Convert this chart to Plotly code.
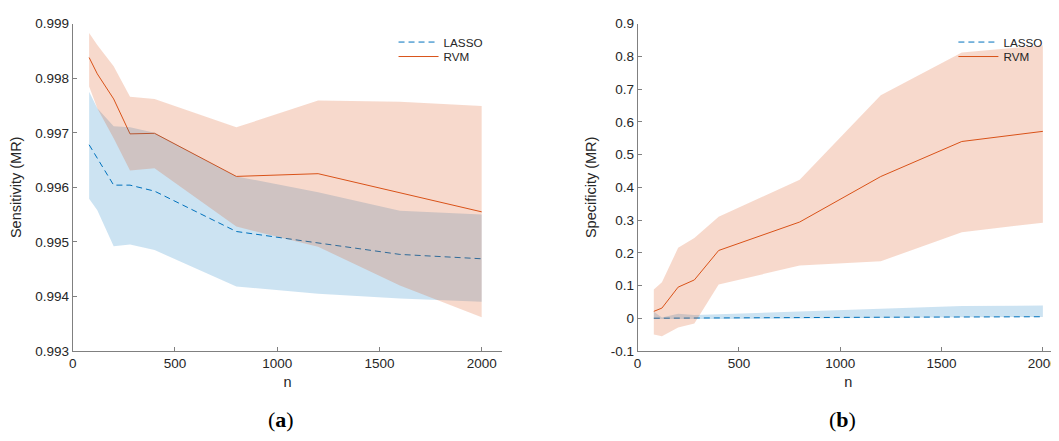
import plotly.graph_objects as go

# ---------------- data ----------------
n = [80, 120, 200, 280, 400, 800, 1200, 1600, 2000]

lasso_sens_mean = [0.99678, 0.99653, 0.99604, 0.99604, 0.99593, 0.99519, 0.99498, 0.99477, 0.99469]
lasso_sens_upper = [0.99775, 0.99745, 0.99712, 0.99710, 0.99700, 0.99620, 0.99591, 0.99557, 0.99550]
lasso_sens_lower = [0.99579, 0.99558, 0.99492, 0.99495, 0.99485, 0.99418, 0.99405, 0.99396, 0.99390]

rvm_sens_mean = [0.99838, 0.99808, 0.99762, 0.99698, 0.99699, 0.99620, 0.99625, 0.99590, 0.99555]
rvm_sens_upper = [0.99883, 0.99861, 0.99822, 0.99766, 0.99762, 0.99710, 0.99759, 0.99757, 0.99749]
rvm_sens_lower = [0.99785, 0.99745, 0.99690, 0.99631, 0.99635, 0.99528, 0.99491, 0.99420, 0.99362]

lasso_spec_mean = [0.000, 0.000, 0.0005, 0.0005, 0.001, 0.002, 0.003, 0.004, 0.0045]
lasso_spec_upper = [0.020, 0.002, 0.014, 0.010, 0.012, 0.020, 0.028, 0.037, 0.039]
lasso_spec_lower = [-0.002, -0.002, -0.003, -0.003, -0.002, -0.001, 0.000, 0.003, 0.004]

rvm_spec_mean = [0.021, 0.031, 0.095, 0.117, 0.207, 0.294, 0.433, 0.540, 0.571]
rvm_spec_upper = [0.088, 0.110, 0.215, 0.245, 0.310, 0.423, 0.681, 0.812, 0.834]
rvm_spec_lower = [-0.050, -0.055, -0.028, -0.016, 0.103, 0.161, 0.174, 0.263, 0.292]

sens_ticks = [0.993, 0.994, 0.995, 0.996, 0.997, 0.998, 0.999]
sens_ticktext = ["0.993", "0.994", "0.995", "0.996", "0.997", "0.998", "0.999"]
spec_ticks = [-0.1, 0, 0.1, 0.2, 0.3, 0.4, 0.5, 0.6, 0.7, 0.8, 0.9]
spec_ticktext = ["-0.1", "0", "0.1", "0.2", "0.3", "0.4", "0.5", "0.6", "0.7", "0.8", "0.9"]
x_ticks = [0, 500, 1000, 1500, 2000]

BLUE = "#0072BD"
ORANGE = "#D95319"
BLUE_FILL = "rgba(0,114,189,0.2)"
ORANGE_FILL = "rgba(217,83,25,0.22)"
FONT = "Liberation Sans, Arial, sans-serif"
TXT = "#262626"

fig = go.Figure()


def add_panel(xa, ya, leg_l, leg_r, l_mean, l_up, l_lo, r_mean, r_up, r_lo):
    # lines first (drawn beneath translucent patches, as in MATLAB)
    fig.add_trace(go.Scatter(x=n, y=l_mean, mode="lines", name="LASSO",
                             line=dict(color=BLUE, width=1, dash="6px,4px"),
                             xaxis=xa, yaxis=ya, legend=leg_l))
    fig.add_trace(go.Scatter(x=n, y=r_mean, mode="lines", name="RVM",
                             line=dict(color=ORANGE, width=1),
                             xaxis=xa, yaxis=ya, legend=leg_r))
    fig.add_trace(go.Scatter(x=n + n[::-1], y=l_up + l_lo[::-1], fill="toself",
                             fillcolor=BLUE_FILL, line=dict(width=0), mode="lines",
                             hoverinfo="skip", showlegend=False, xaxis=xa, yaxis=ya))
    fig.add_trace(go.Scatter(x=n + n[::-1], y=r_up + r_lo[::-1], fill="toself",
                             fillcolor=ORANGE_FILL, line=dict(width=0), mode="lines",
                             hoverinfo="skip", showlegend=False, xaxis=xa, yaxis=ya))


add_panel("x", "y", "legend", "legend3", lasso_sens_mean, lasso_sens_upper, lasso_sens_lower,
          rvm_sens_mean, rvm_sens_upper, rvm_sens_lower)
add_panel("x2", "y2", "legend2", "legend4", lasso_spec_mean, lasso_spec_upper, lasso_spec_lower,
          rvm_spec_mean, rvm_spec_upper, rvm_spec_lower)

# page body has an 8px default margin: figure is laid out in page coords minus 8
OFF = 8
W, H = 1059 - OFF, 441 - OFF


def px(xp):
    return (xp - OFF) / W


def py(yp):
    return 1 - (yp - OFF) / H


ydom = [py(356), py(17)]

axis_common = dict(showline=True, linecolor="#808080", linewidth=1, ticks="inside",
                   ticklen=4, tickcolor="#808080", showgrid=False, zeroline=False,
                   tickfont=dict(family=FONT, size=13.5, color=TXT), mirror=False)
title_font = dict(size=14.5, family=FONT, color=TXT)


def leg(xp, yp):
    return dict(x=px(xp), y=py(yp), xanchor="left", yanchor="top",
                bgcolor="rgba(0,0,0,0)", font=dict(family=FONT, size=11.7, color=TXT),
                itemwidth=40, tracegroupgap=0)


fig.update_layout(
    width=W, height=H, margin=dict(l=0, r=0, t=0, b=0),
    plot_bgcolor="white", paper_bgcolor="white",
    font=dict(family=FONT, color=TXT),
    xaxis=dict(domain=[px(69), px(500)], range=[0, 2100], tickvals=x_ticks,
               anchor="y", title=dict(text="n", font=title_font, standoff=6),
               **axis_common),
    yaxis=dict(domain=ydom, range=[0.993, 0.999], tickvals=sens_ticks, ticktext=sens_ticktext,
               anchor="x", title=dict(text="Sensitivity (MR)", font=title_font, standoff=10),
               **axis_common),
    xaxis2=dict(domain=[px(636), 1.0], range=[0, (1059 - 636) / 101.7 * 500], tickvals=x_ticks,
                anchor="y2", title=dict(text="n", font=title_font, standoff=6),
                **axis_common),
    yaxis2=dict(domain=ydom, range=[-0.1, 0.9], tickvals=spec_ticks, ticktext=spec_ticktext,
                anchor="x2", title=dict(text="Specificity (MR)", font=title_font, standoff=10),
                **axis_common),
    legend=leg(391, 21),
    legend3=leg(391, 36),
    legend2=leg(953, 21),
    legend4=leg(953, 36),
    showlegend=True,
)

cap_font = dict(family="Liberation Serif, DejaVu Serif, serif", size=22, color="black")
fig.add_annotation(text="(<b>a</b>)", x=px(278), y=py(427), xref="paper", yref="paper",
                   showarrow=False, font=cap_font, xanchor="center", yanchor="middle")
fig.add_annotation(text="(<b>b</b>)", x=px(842), y=py(427), xref="paper", yref="paper",
                   showarrow=False, font=cap_font, xanchor="center", yanchor="middle")

fig.write_html("out.html")
